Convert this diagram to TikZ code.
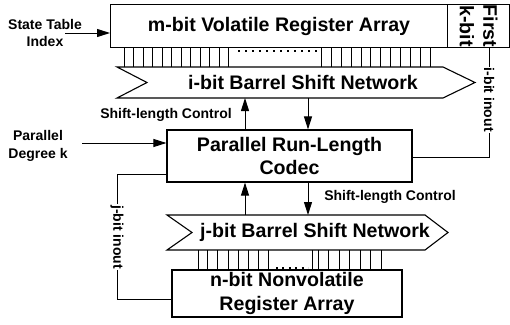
\documentclass[tikz,border=0pt]{standalone}
\usepackage{fontspec}
\setmainfont{Liberation Sans}
\usetikzlibrary{arrows.meta}
\begin{document}
\begin{tikzpicture}[x=1pt,y=-1pt,
  box/.style={draw,line width=1.1pt,inner sep=0pt,align=center},
  big/.style={font=\fontsize{19.6}{23.5}\selectfont\bfseries},
  sm/.style={font=\fontsize{14}{17.5}\selectfont\bfseries, align=center},
  arr/.style={line width=1pt,-{Triangle[length=13pt,width=8pt]}},
  wire/.style={line width=1pt},
  tick/.style={line width=0.8pt},
  lbl/.style={sm,fill=white,rotate=-90,inner sep=1pt}]
\useasboundingbox (0,0) rectangle (510,324);
% top register
\node[box,big,anchor=north west,minimum width=337pt,minimum height=43pt] (mreg) at (110,4) {m-bit Volatile Register Array};
\node[box,anchor=north west,minimum width=62pt,minimum height=43pt] (first) at (447,4) {};
\node[big,rotate=-90,align=center,inner sep=0pt] (firstt) at (first.center) {First\\k-bit};
% top ticks
\foreach \x in {124,133.5,143,152.5,162,171.5,181,190.5,200,209.5,219,228.5,321,331,341,351,361,370.5,380.5,390.5,400.5,410.5,420.5,430}
  \draw[tick] (\x,47) -- (\x,67);
\draw[line width=2pt, dash pattern=on 2pt off 5pt] (238,51) -- (318,51);
% i-bit barrel
\draw[line width=1.1pt] (117,67) -- (443,67) -- (475,82.5) -- (443,98) -- (117,98) -- (147,82.5) -- cycle;
\node[big] (ibar) at (303,82.5) {i-bit Barrel Shift Network};
% codec
\node[box,big,minimum width=245pt,minimum height=52pt] (codec) at (289.5,156) {Parallel Run-Length\\Codec};
% j-bit barrel
\draw[line width=1.1pt] (167,215) -- (425,215) -- (448,232.5) -- (425,250) -- (167,250) -- (192,232.5) -- cycle;
\node[big] (jbar) at (315,232.5) {j-bit Barrel Shift Network};
% bottom ticks
\foreach \x in {198,207.5,217.5,228,238,248,258,268,312,318.5,328,339,349.5,360,370.5,381}
  \draw[tick] (\x,250) -- (\x,270);
\draw[line width=2pt, dash pattern=on 2pt off 4.4pt] (276,268) -- (308,268);
% n-bit register
\node[box,big,minimum width=230pt,minimum height=47pt] (nreg) at (287,293.5) {n-bit Nonvolatile\\Register Array};
% shift-length arrows
\coordinate (ib1) at (245,98);
\coordinate (ib2) at (308,98);
\coordinate (jb1) at (245,215);
\coordinate (jb2) at (308,215);
\draw[arr] (codec.north -| ib1) -- (ib1);
\draw[arr] (ib2) -- (codec.north -| ib2);
\draw[arr] (jb1) -- (codec.south -| jb1);
\draw[arr] (codec.south -| jb2) -- (jb2);
\node[sm] (slc1) at (166,115) {Shift-length Control};
\node[sm] (slc2) at (390,197) {Shift-length Control};
% inputs
\node[sm] (sti) at (45,33) {State Table\\Index};
\coordinate (stis) at (65,33);
\draw[arr] (stis) -- (mreg.west |- stis);
\node[sm] (pdk) at (38,146) {Parallel\\Degree k};
\coordinate (pdks) at (82,143);
\draw[arr] (pdks) -- (codec.west |- pdks);
% inout wires
\coordinate (ri) at (489,47);
\draw[wire] ([yshift=-1pt]codec.east) -| (ri) node[lbl,pos=0.76] {i-bit inout};
\coordinate (lj) at (117,237);
\draw[wire] ([yshift=8pt]codec.south west) -| (lj) node[lbl] {j-bit inout} |- ([yshift=-5.5pt]nreg.west);
\end{tikzpicture}
\end{document}
